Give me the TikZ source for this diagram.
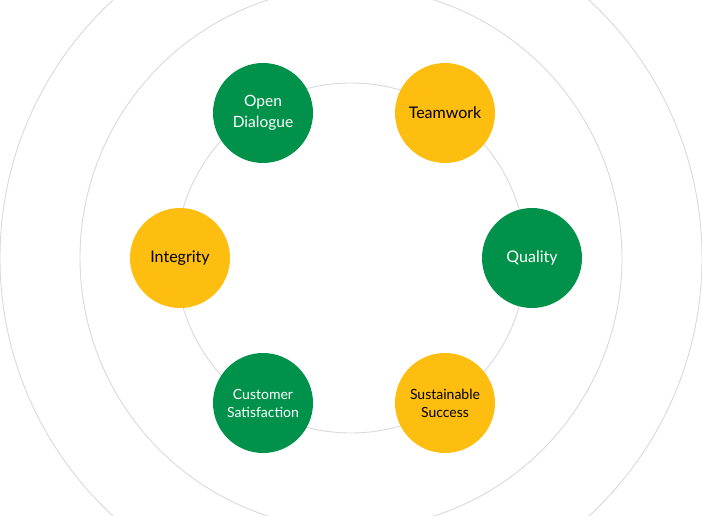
\documentclass[tikz,border=0pt]{standalone}
\usepackage{fontspec}
\setmainfont{Lato}
\usepackage{xcolor}
\usepackage{tikz}
\usetikzlibrary{positioning}

\definecolor{valuegreen}{RGB}{0,146,74}
\definecolor{valueyellow}{RGB}{253,190,16}
\definecolor{ringgray}{RGB}{217,217,217}

\tikzset{
    ring/.style={draw=ringgray, line width=0.9pt},
    value/.style={circle, minimum size=100pt, inner sep=0pt, align=center},
    greenvalue/.style={value, fill=valuegreen, text=white},
    yellowvalue/.style={value, fill=valueyellow, text=black}
}

\begin{document}
\begin{tikzpicture}[x=1pt, y=-1pt]
    \useasboundingbox (0,0) rectangle (702,516);

    % Rings around the centre
    \coordinate (center) at (351,258);
    \begin{scope}
        \clip (0,0) rectangle (702,516);
        \draw[ring] (center) circle (175);
        \draw[ring] (center) circle (271);
        \draw[ring] (center) circle (351);
    \end{scope}

    % Values on the inner ring
    \node[greenvalue, font=\fontsize{15.5}{21}\selectfont] (dialogue) at (263,113) {Open\\Dialogue};
    \node[yellowvalue, font=\fontsize{16}{19}\selectfont] (teamwork) at (445,113) {Teamwork};
    \node[greenvalue, font=\fontsize{16}{19}\selectfont] (quality) at (532,258) {Quality};
    \node[yellowvalue, font=\fontsize{14}{18}\selectfont] (success) at (445,403) {Sustainable\\Success};
    \node[greenvalue, font=\fontsize{14}{18}\selectfont] (customer) at (263,403) {Customer\\Satisfaction};
    \node[yellowvalue, font=\fontsize{16}{19}\selectfont] (integrity) at (180,258) {Integrity};
\end{tikzpicture}
\end{document}
